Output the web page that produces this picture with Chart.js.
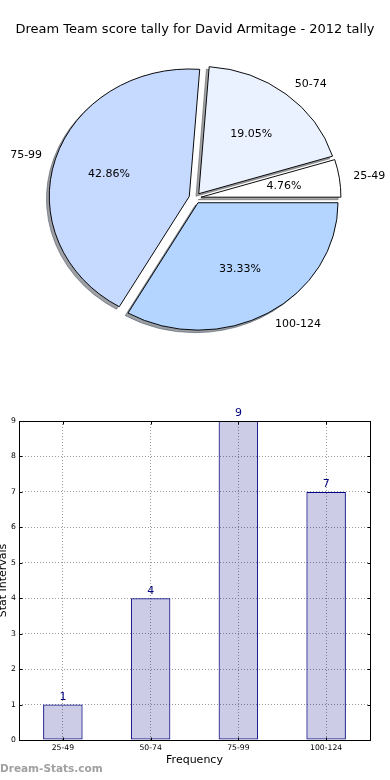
<!DOCTYPE html>
<html>
<head>
<meta charset="utf-8">
<script src="https://cdn.jsdelivr.net/npm/chart.js@4"></script>
<style>
  html, body { margin: 0; padding: 0; background: #fff; }
  #wrap { position: relative; width: 390px; height: 780px; overflow: hidden; }
  #pieBox { position: absolute; left: 0; top: 0; width: 390px; height: 375px; }
  #barBox { position: absolute; left: 0; top: 375px; width: 390px; height: 405px; }
  #brand { position: absolute; left: 0; top: 762px; font: bold 10.5px 'DejaVu Sans', sans-serif; color: #a0a0a0; }
</style>
</head>
<body>
<div id="wrap">
  <div id="pieBox"><canvas id="pieChart"></canvas></div>
  <div id="barBox"><canvas id="barChart"></canvas></div>
  <div id="brand">Dream-Stats.com</div>
</div>
<script>
// Score tally data
const categories = ['25-49', '50-74', '75-99', '100-124'];
const counts = [1, 4, 9, 7];
const pieColours = ['#ffffff', '#ebf2ff', '#c6d9ff', '#b4d5ff'];
const yTicks = [0, 1, 2, 3, 4, 5, 6, 7, 8, 9];

const titleText = 'Dream Team score tally for David Armitage - 2012 tally';
const FONT = "'DejaVu Sans', sans-serif";

// matplotlib-ish pie: explode, drop shadow, slightly squashed (non-equal axes)
const EXPLODE = 6;
const SQUASH = 0.91;
const SHADOW_X = -2.8, SHADOW_Y = 2.8;

// pie goes counter-clockwise from 3 o'clock in the original, so feed it reversed
const pieLabels = categories.slice().reverse();
const pieValues = counts.slice().reverse();
const pieFill = pieColours.slice().reverse();
const total = counts.reduce((a, b) => a + b, 0);

function shadowOf(hex) {
    const n = parseInt(hex.slice(1), 16);
    const r = Math.round(((n >> 16) & 255) * 0.3);
    const g = Math.round(((n >> 8) & 255) * 0.3);
    const b = Math.round((n & 255) * 0.3);
    return 'rgba(' + r + ',' + g + ',' + b + ',0.5)';
}

const pieDraw = {
    id: 'pieDraw',
    beforeDatasetsDraw(chart) {
        const ctx = chart.ctx;
        const arcs = chart.getDatasetMeta(0).data;
        const cx = arcs[0].x, cy = arcs[0].y;
        ctx.save();
        ctx.translate(cx, cy);
        ctx.scale(1, SQUASH);
        ctx.translate(-cx, -cy);
        // shadows under everything
        arcs.forEach((arc, i) => {
            const mid = (arc.startAngle + arc.endAngle) / 2;
            const x = arc.x + Math.cos(mid) * EXPLODE + SHADOW_X;
            const y = arc.y + Math.sin(mid) * EXPLODE + SHADOW_Y;
            ctx.beginPath();
            ctx.moveTo(x, y);
            ctx.arc(x, y, arc.outerRadius, arc.startAngle, arc.endAngle);
            ctx.closePath();
            ctx.fillStyle = shadowOf(pieFill[i]);
            ctx.strokeStyle = shadowOf(pieFill[i]);
            ctx.lineWidth = 1;
            ctx.fill();
            ctx.stroke();
        });
        arcs.forEach(arc => {
            const mid = (arc.startAngle + arc.endAngle) / 2;
            ctx.save();
            ctx.translate(Math.cos(mid) * EXPLODE, Math.sin(mid) * EXPLODE);
            arc.draw(ctx);
            ctx.restore();
        });
        ctx.restore();
        return false;
    },
    afterDraw(chart) {
        const ctx = chart.ctx;
        const arcs = chart.getDatasetMeta(0).data;
        ctx.save();
        ctx.fillStyle = '#000';
        ctx.font = '11px ' + FONT;
        ctx.textBaseline = 'middle';
        arcs.forEach((arc, i) => {
            const mid = (arc.startAngle + arc.endAngle) / 2;
            const c = Math.cos(mid), s = Math.sin(mid);
            const rl = arc.outerRadius * 1.1 + EXPLODE;
            ctx.textAlign = c > 0 ? 'left' : 'right';
            ctx.fillText(pieLabels[i], arc.x + c * rl, arc.y + s * rl * SQUASH);
            const rp = arc.outerRadius * 0.6 + EXPLODE;
            ctx.textAlign = 'center';
            const pct = (pieValues[i] / total * 100).toFixed(2) + '%';
            ctx.fillText(pct, arc.x + c * rp, arc.y + s * rp * SQUASH);
        });
        ctx.restore();
    }
};

new Chart(document.getElementById('pieChart'), {
    type: 'pie',
    data: {
        labels: pieLabels,
        datasets: [{
            data: pieValues,
            backgroundColor: pieFill,
            borderColor: '#000',
            borderWidth: 1,
            hoverBorderWidth: 1,
            hoverOffset: 0,
            radius: 140
        }]
    },
    options: {
        responsive: true,
        maintainAspectRatio: false,
        animation: false,
        events: [],
        rotation: 90,
        layout: { padding: { left: 10, right: 10, top: 0, bottom: 16.8 } },
        plugins: {
            legend: { display: false },
            tooltip: { enabled: false },
            title: {
                display: true,
                text: titleText,
                color: '#000',
                font: { family: FONT, size: 13, weight: 'normal', lineHeight: 1.2 },
                padding: { top: 22.2, bottom: 0 }
            }
        }
    },
    plugins: [pieDraw]
});

// bar chart: frame, inner tick marks, value labels
const barExtras = {
    id: 'barExtras',
    afterDatasetsDraw(chart) {
        const ctx = chart.ctx;
        const a = chart.chartArea;
        const L = Math.round(a.left) + 0.5, T = Math.round(a.top) + 0.5;
        const R = Math.round(a.right) + 0.5, B = Math.round(a.bottom) + 0.5;
        ctx.save();
        ctx.strokeStyle = '#000';
        ctx.lineWidth = 1;
        ctx.strokeRect(L, T, R - L, B - T);
        ctx.beginPath();
        chart.scales.y.ticks.forEach(t => {
            const y = Math.round(chart.scales.y.getPixelForValue(t.value)) + 0.5;
            ctx.moveTo(L, y); ctx.lineTo(L + 3, y);
            ctx.moveTo(R, y); ctx.lineTo(R - 3, y);
        });
        chart.scales.x.ticks.forEach((t, i) => {
            const x = Math.round(chart.scales.x.getPixelForTick(i)) + 0.5;
            ctx.moveTo(x, B); ctx.lineTo(x, B - 3);
            ctx.moveTo(x, T); ctx.lineTo(x, T + 3);
        });
        ctx.stroke();
        ctx.fillStyle = '#000080';
        ctx.font = '11px ' + FONT;
        ctx.textAlign = 'center';
        ctx.textBaseline = 'bottom';
        chart.getDatasetMeta(0).data.forEach((bar, i) => {
            ctx.fillText(String(counts[i]), bar.x, bar.y - 2);
        });
        ctx.restore();
    }
};

new Chart(document.getElementById('barChart'), {
    type: 'bar',
    data: {
        labels: categories,
        datasets: [{
            data: counts,
            backgroundColor: 'rgba(0, 0, 128, 0.2)',
            borderColor: '#000080',
            borderWidth: 1,
            borderSkipped: false,
            barPercentage: 0.45,
            categoryPercentage: 1
        }]
    },
    options: {
        responsive: true,
        maintainAspectRatio: false,
        animation: false,
        events: [],
        layout: { padding: { left: 0, right: 20, top: 46, bottom: 0 } },
        plugins: {
            legend: { display: false },
            tooltip: { enabled: false }
        },
        scales: {
            x: {
                afterFit(scale) { scale.height = 40; },
                grid: {
                    offset: false,
                    drawTicks: false,
                    color: '#999999',
                    lineWidth: 1
                },
                border: { display: false, dash: [1, 2] },
                ticks: { color: '#000', padding: 3, font: { family: FONT, size: 7.7 } },
                title: {
                    display: true,
                    text: 'Frequency',
                    color: '#000',
                    font: { family: FONT, size: 11, lineHeight: 1.2 },
                    padding: { top: 0, bottom: 13.4 }
                }
            },
            y: {
                min: 0,
                max: 9,
                afterFit(scale) { scale.width = 19; },
                afterBuildTicks(scale) { scale.ticks = yTicks.map(v => ({ value: v })); },
                grid: {
                    drawTicks: false,
                    color: '#999999',
                    lineWidth: 1
                },
                border: { display: false, dash: [1, 2] },
                ticks: { color: '#000', padding: 3, font: { family: FONT, size: 7.7 } },
                title: {
                    display: true,
                    text: 'Stat Intervals',
                    color: '#000',
                    font: { family: FONT, size: 11, lineHeight: 1.2 },
                    padding: { top: -3, bottom: 0 }
                }
            }
        }
    },
    plugins: [barExtras]
});
</script>
</body>
</html>
